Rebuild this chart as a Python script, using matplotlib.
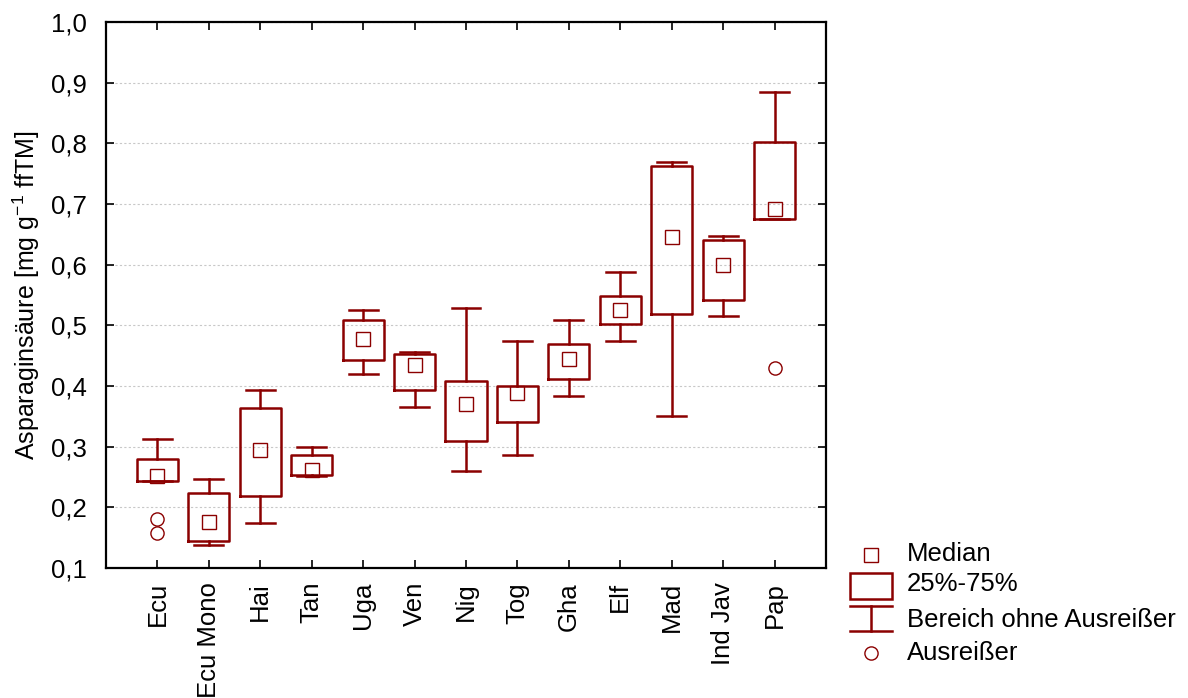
import matplotlib
matplotlib.use("Agg")
import matplotlib.pyplot as plt
from matplotlib.ticker import FuncFormatter, MultipleLocator
from matplotlib.patches import Rectangle
from matplotlib.lines import Line2D

plt.rcParams['font.family'] = ['Liberation Sans', 'DejaVu Sans']
plt.rcParams['mathtext.fontset'] = 'custom'
plt.rcParams['mathtext.rm'] = 'Liberation Sans'
plt.rcParams['mathtext.it'] = 'Liberation Sans'
plt.rcParams['axes.unicode_minus'] = False

# Herkunft der Proben
categories = ["Ecu", "Ecu Mono", "Hai", "Tan", "Uga", "Ven", "Nig",
              "Tog", "Gha", "Elf", "Mad", "Ind Jav", "Pap"]

# Kennwerte je Herkunft (mg/g ffTM)
medians = [0.252, 0.176, 0.295, 0.262, 0.477, 0.434, 0.371,
           0.388, 0.444, 0.526, 0.646, 0.599, 0.691]
q1 = [0.244, 0.144, 0.218, 0.254, 0.443, 0.393, 0.310,
      0.340, 0.412, 0.502, 0.518, 0.541, 0.676]
q3 = [0.280, 0.224, 0.363, 0.287, 0.509, 0.452, 0.409,
      0.400, 0.469, 0.548, 0.763, 0.640, 0.802]
whisker_low = [0.244, 0.1385, 0.175, 0.251, 0.419, 0.366, 0.260,
               0.287, 0.383, 0.475, 0.350, 0.515, 0.676]
whisker_high = [0.313, 0.247, 0.393, 0.300, 0.525, 0.456, 0.529,
                0.475, 0.509, 0.588, 0.770, 0.648, 0.885]
outliers = [[0.180, 0.158], [], [], [], [], [], [],
            [], [], [], [], [], [0.430]]

DARK_RED = "#8B0000"
FS = 18.5

fig = plt.figure(figsize=(11.88, 6.98), dpi=100)
ax = fig.add_axes([106 / 1188, 1 - 568 / 698, 720 / 1188, 546 / 698])

stats = []
for i, name in enumerate(categories):
    stats.append(dict(label=name, med=medians[i], mean=medians[i],
                      q1=q1[i], q3=q3[i],
                      whislo=whisker_low[i], whishi=whisker_high[i],
                      fliers=outliers[i]))

positions = list(range(1, len(categories) + 1))
ax.bxp(stats, positions=positions, widths=0.8, capwidths=0.56,
       showmeans=True, showfliers=True,
       boxprops=dict(color=DARK_RED, linewidth=1.8),
       whiskerprops=dict(color=DARK_RED, linewidth=1.8),
       capprops=dict(color=DARK_RED, linewidth=1.8),
       medianprops=dict(linestyle="none"),
       meanprops=dict(marker="s", markersize=10, markerfacecolor="none",
                      markeredgecolor=DARK_RED, markeredgewidth=1.0),
       flierprops=dict(marker="o", markersize=9.5, markerfacecolor="none",
                       markeredgecolor=DARK_RED, markeredgewidth=1.0),
       zorder=3)

ax.set_xlim(0, len(categories) + 1)
ax.set_ylim(0.1, 1.0)
ax.set_xticks(positions)
ax.set_xticklabels(categories, rotation=90, fontsize=FS)
ax.yaxis.set_major_locator(MultipleLocator(0.1))
ax.yaxis.set_major_formatter(FuncFormatter(lambda v, p: f"{v:.1f}".replace(".", ",")))
ax.tick_params(axis="y", labelsize=FS, direction="in", length=6, width=1.2,
               left=True, right=True, pad=14)
ax.tick_params(axis="x", direction="in", length=6, width=1.2,
               bottom=True, top=True, pad=10)
for sp in ax.spines.values():
    sp.set_linewidth(1.6)
ax.yaxis.grid(True, color="#c8c8c8", linestyle=(0, (2, 2)), linewidth=0.8)
ax.set_axisbelow(True)

ax.set_ylabel("Asparaginsäure [mg g$^{-1}$ ffTM]", fontsize=18)
ax.yaxis.set_label_coords(-0.089, 0.5)

# Legende rechts unten neben dem Diagramm
lg = fig.add_axes([0, 0, 1, 1])
lg.set_xlim(0, 1188)
lg.set_ylim(698, 0)
lg.axis("off")
lg.add_line(Line2D([871], [555], marker="s", markersize=10, markerfacecolor="none",
                   markeredgecolor=DARK_RED, markeredgewidth=1.0))
lg.add_patch(Rectangle((850, 573), 42, 26, fill=False, edgecolor=DARK_RED, linewidth=1.8))
lg.add_line(Line2D([850, 892], [606, 606], color=DARK_RED, linewidth=1.8))
lg.add_line(Line2D([850, 892], [631, 631], color=DARK_RED, linewidth=1.8))
lg.add_line(Line2D([871, 871], [606, 631], color=DARK_RED, linewidth=1.8))
lg.add_line(Line2D([871], [653], marker="o", markersize=9.5, markerfacecolor="none",
                   markeredgecolor=DARK_RED, markeredgewidth=1.0))
legend_texts = ["Median", "25%-75%", "Bereich ohne Ausreißer", "Ausreißer"]
legend_y = [554, 584, 620, 653]
for t, y in zip(legend_texts, legend_y):
    lg.text(907, y, t, fontsize=FS, va="center", ha="left")

fig.savefig("out.png", dpi=100)
